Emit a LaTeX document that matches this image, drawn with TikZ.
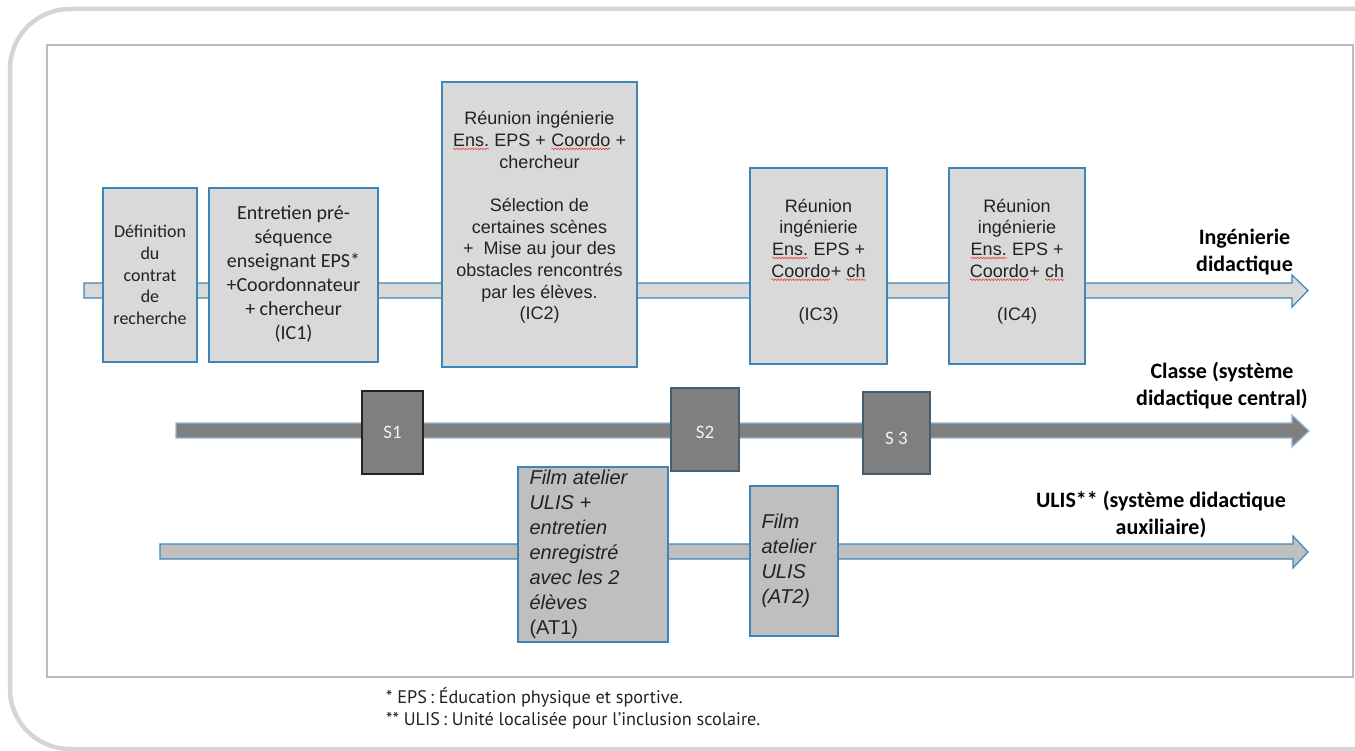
\documentclass[tikz,border=0pt]{standalone}
\usepackage{fontspec}
\usetikzlibrary{decorations.pathmorphing}
\setmainfont{Liberation Sans}
\newfontfamily\calib{Carlito}
\newfontfamily\arial{Liberation Sans}
\newfontfamily\footf{PT Sans}
\definecolor{boxfill}{HTML}{D9D9D9}
\definecolor{boxline}{HTML}{3F86B8}
\definecolor{atfill}{HTML}{C0BFC0}
\definecolor{sfill}{HTML}{7F7F7F}
\definecolor{frameouter}{HTML}{D5D5D7}
\definecolor{frameinner}{HTML}{BABBC0}
\definecolor{txt}{HTML}{222222}
\definecolor{wavyred}{HTML}{E8463F}
\definecolor{classline}{HTML}{8FB8DC}
\newcommand\rw[1]{\tikz[baseline=(w.base)]{\node[inner sep=0pt,outer sep=0pt,anchor=base,align=left,draw=none,fill=none,minimum width=0pt,minimum height=0pt] (w) at (0,0) {#1};
  \draw[wavyred,line width=0.6pt,decorate,decoration={snake,amplitude=0.8pt,segment length=3pt}] ([yshift=-2.6pt]w.base west) -- ([yshift=-2.6pt]w.base east);}}
\tikzset{
  icbox/.style={draw=boxline, fill=boxfill, line width=1.3pt, inner sep=0pt},
  atbox/.style={draw=boxline, fill=atfill, line width=1.3pt, inner sep=0pt},
  sbox/.style={fill=sfill, line width=1.3pt, inner sep=0pt, text=white!95!black,
     font=\calib\fontsize{19}{22}\selectfont},
  caltext/.style={text=txt, align=center, font=\calib\fontsize{18}{21.6}\selectfont},
  ariatext/.style={text=txt, align=center, font=\arial\fontsize{18}{21.7}\selectfont},
  attext/.style={text=txt, align=left, font=\arial\itshape\fontsize{20}{24.9}\selectfont},
  lab/.style={text=black, align=center, font=\calib\bfseries\fontsize{22}{27}\selectfont},
}
\begin{document}
\begin{tikzpicture}[x=1pt,y=-1pt]
\useasboundingbox (0,0) rectangle (1355,751);
\clip (0,0) rectangle (1355,751);
% frames
\draw[frameouter, line width=4.5pt, rounded corners=60pt] (10,9) rectangle (1420,749);
\draw[frameinner, line width=2.5pt] (47,45) rectangle (1353,677);

% block arrows
\coordinate (ingStart) at (84,290.5);
\coordinate (ingTip) at (1308,290.5);
\path[draw=boxline, fill=boxfill, line width=1.2pt]
  (84,283) -- (1292,283) -- (1292,275) -- (ingTip) -- (1292,307) -- (1292,298) -- (84,298) -- cycle;
\coordinate (claStart) at (176,430.5);
\coordinate (claTip) at (1309,431);
\path[draw=classline, fill=sfill, line width=1.2pt]
  (176,423) -- (1292,423) -- (1292,415) -- (claTip) -- (1292,447) -- (1292,438) -- (176,438) -- cycle;
\coordinate (ulStart) at (160,551.5);
\coordinate (ulTip) at (1308,552);
\path[draw=boxline, fill=atfill, line width=1.2pt]
  (160,544) -- (1293,544) -- (1293,536) -- (ulTip) -- (1293,568) -- (1293,559) -- (160,559) -- cycle;

% ingenierie boxes
\node[icbox, minimum width=94pt, minimum height=174pt] (def) at (150,275) {};
\node[caltext] (deft) at (150,275) {Définition\\du\\contrat\\de\\recherche};
\node[icbox, minimum width=169pt, minimum height=174pt] (ent) at (293.5,275) {};
\node[caltext, font=\calib\fontsize{20}{24}\selectfont] (entt) at (293.5,274)
  {Entretien pré-\\séquence\\enseignant EPS*\\+Coordonnateur\\+ chercheur\\(IC1)};
\node[icbox, minimum width=195pt, minimum height=285pt] (ic2) at (539.5,224.5) {};
\node[ariatext] (ic2t) at (539.5,217.5)
  {Réunion ingénierie\\\rw{Ens.} EPS + \rw{Coordo} +\\chercheur\\[21.7pt]Sélection de\\certaines scènes\\+\ \ Mise au jour des\\obstacles rencontrés\\par les élèves.\\(IC2)};
\node[icbox, minimum width=137pt, minimum height=196pt] (ic3) at (818.5,266) {};
\node[ariatext] (ic3t) at (818.5,261.5)
  {Réunion\\ingénierie\\\rw{Ens.} EPS +\\\rw{Coordo}+ \rw{ch}\\[21.7pt](IC3)};
\node[icbox, minimum width=136pt, minimum height=196pt] (ic4) at (1017,266) {};
\node[ariatext] (ic4t) at (1017,261.5)
  {Réunion\\ingénierie\\\rw{Ens.} EPS +\\\rw{Coordo}+ \rw{ch}\\[21.7pt](IC4)};

% seances
\node[sbox, draw=txt, minimum width=61pt, minimum height=83pt] (s1) at (392.5,432.5) {S1};
\node[sbox, draw=boxline!40!black!80, minimum width=68pt, minimum height=83pt] (s2) at (705,429.5) {};
\node[text=white!95!black, font=\calib\fontsize{19}{22}\selectfont] (s2t) at (705,432) {S2};
\node[sbox, draw=boxline!40!black!80, minimum width=67pt, minimum height=82pt] (s3) at (896.5,433) {};
\node[text=white!95!black, font=\calib\fontsize{19}{22}\selectfont] (s3t) at (896.5,438) {S 3};

% ateliers
\node[atbox, minimum width=150pt, minimum height=175pt] (at1) at (593,554.5) {};
\node[attext, anchor=west] (at1t) at (526,554.5)
  {Film atelier\\ULIS +\\entretien\\enregistré\\avec les 2\\élèves\\{\upshape(AT1)}};
\node[atbox, minimum width=88pt, minimum height=150pt] (at2) at (794,561) {};
\node[attext, anchor=west] (at2t) at (758,560.5)
  {Film\\atelier\\ULIS\\(AT2)};

% labels
\node[lab] (labIng) at (1244.5,252.5) {Ingénierie\\didactique};
\node[lab] (labCla) at (1222,385.5) {Classe (système\\didactique central)};
\node[lab] (labUl) at (1161,514) {ULIS** (système didactique\\auxiliaire)};

% footnote
\node[anchor=west, align=left, text=txt, font=\footf\fontsize{18.2}{22}\selectfont, inner sep=0pt] (fn) at (386,708)
  {* EPS\,: Éducation physique et sportive.\\** ULIS\,: Unité localisée pour l’inclusion scolaire.};
\end{tikzpicture}
\end{document}
